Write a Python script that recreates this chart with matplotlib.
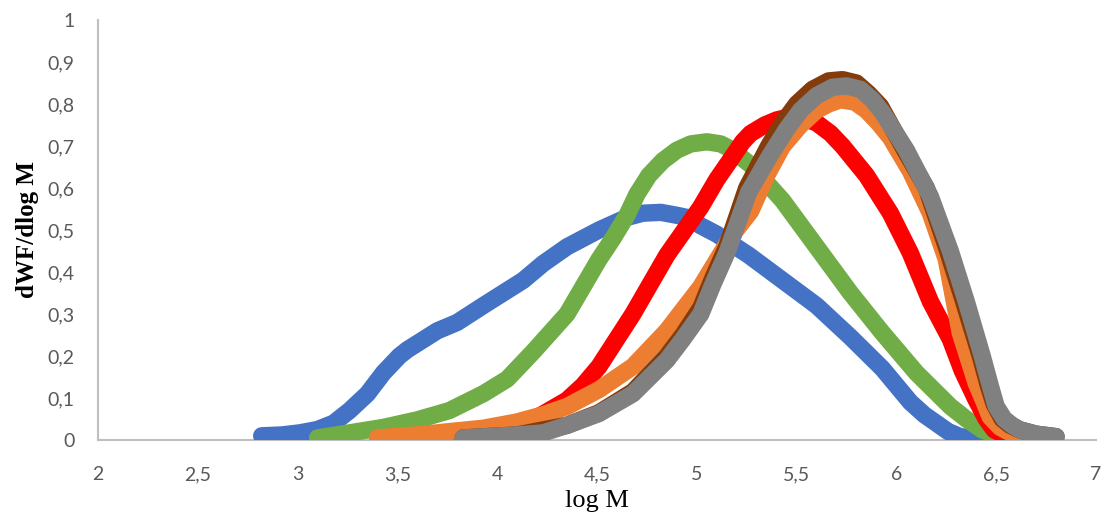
import matplotlib
matplotlib.use("Agg")
import matplotlib.pyplot as plt

# ---- data ----
blue_x = [2.82, 2.92, 3.01, 3.10, 3.18, 3.26, 3.35, 3.43, 3.51, 3.55, 3.60, 3.65, 3.70, 3.80, 3.93,
          4.03, 4.13, 4.23, 4.35, 4.45, 4.51, 4.58, 4.65, 4.73, 4.82, 4.90, 4.95, 5.02, 5.10, 5.26,
          5.43, 5.60, 5.77, 5.93, 6.07, 6.14, 6.20, 6.26, 6.32, 6.42]
blue_y = [0.01, 0.012, 0.017, 0.025, 0.04, 0.07, 0.11, 0.16, 0.20, 0.215, 0.23, 0.245, 0.26, 0.28, 0.32,
          0.35, 0.38, 0.42, 0.46, 0.485, 0.50, 0.515, 0.53, 0.54, 0.542, 0.535, 0.53, 0.51, 0.49, 0.44,
          0.38, 0.32, 0.245, 0.17, 0.09, 0.06, 0.04, 0.02, 0.008, 0.003]

green_x = [3.10, 3.26, 3.43, 3.60, 3.76, 3.93, 4.05, 4.18, 4.35, 4.51, 4.58, 4.65, 4.70, 4.76, 4.83,
           4.90, 4.97, 5.05, 5.12, 5.18, 5.23, 5.27, 5.43, 5.60, 5.77, 5.93, 6.10, 6.27, 6.35, 6.43,
           6.52, 6.60]
green_y = [0.005, 0.017, 0.03, 0.048, 0.07, 0.11, 0.145, 0.21, 0.30, 0.43, 0.48, 0.535, 0.585, 0.63, 0.665,
           0.69, 0.705, 0.71, 0.705, 0.69, 0.67, 0.655, 0.57, 0.46, 0.35, 0.255, 0.16, 0.08, 0.05, 0.024,
           0.008, 0.0]

red_x = [3.50, 3.75, 4.00, 4.18, 4.35, 4.43, 4.51, 4.68, 4.85, 5.02, 5.10, 5.18, 5.23, 5.27, 5.34,
         5.40, 5.47, 5.53, 5.60, 5.67, 5.73, 5.85, 5.97, 6.07, 6.17, 6.27, 6.33, 6.40, 6.45, 6.49,
         6.55, 6.62, 6.70]
red_y = [0.0, 0.01, 0.025, 0.048, 0.095, 0.13, 0.175, 0.30, 0.44, 0.555, 0.62, 0.675, 0.71, 0.73, 0.75,
         0.762, 0.77, 0.767, 0.755, 0.73, 0.70, 0.63, 0.54, 0.445, 0.33, 0.24, 0.165, 0.095, 0.05, 0.024,
         0.01, 0.003, 0.0]

orange_x = [3.40, 3.60, 3.76, 3.93, 4.10, 4.23, 4.35, 4.51, 4.68, 4.85, 5.02, 5.18, 5.27, 5.35, 5.43,
            5.52, 5.60, 5.66, 5.72, 5.79, 5.85, 5.91, 5.97, 6.07, 6.17, 6.25, 6.32, 6.40, 6.44, 6.47,
            6.52, 6.58, 6.66, 6.78]
orange_y = [0.005, 0.012, 0.02, 0.028, 0.043, 0.06, 0.08, 0.12, 0.175, 0.26, 0.365, 0.49, 0.545, 0.63, 0.70,
            0.75, 0.785, 0.80, 0.81, 0.805, 0.785, 0.755, 0.72, 0.64, 0.54, 0.43, 0.255, 0.135, 0.09, 0.055,
            0.03, 0.015, 0.007, 0.003]

brown_x = [3.83, 4.10, 4.35, 4.51, 4.68, 4.85, 4.93, 5.02, 5.08, 5.15, 5.25, 5.36, 5.43, 5.50, 5.58,
           5.66, 5.73, 5.80, 5.86, 5.92, 6.03, 6.15, 6.25, 6.33, 6.42, 6.46, 6.49, 6.53, 6.57, 6.62,
           6.70, 6.80]
brown_y = [0.005, 0.012, 0.035, 0.065, 0.115, 0.20, 0.25, 0.315, 0.385, 0.46, 0.60, 0.70, 0.755, 0.80, 0.835,
           0.855, 0.858, 0.85, 0.825, 0.795, 0.70, 0.60, 0.46, 0.34, 0.20, 0.13, 0.085, 0.05, 0.035, 0.024,
           0.014, 0.008]

gray_x = [3.83, 4.10, 4.23, 4.35, 4.51, 4.68, 4.85, 4.93, 5.02, 5.08, 5.15, 5.26, 5.37, 5.45, 5.52,
          5.60, 5.68, 5.75, 5.82, 5.88, 5.93, 6.05, 6.17, 6.27, 6.35, 6.43, 6.47, 6.50, 6.54, 6.58,
          6.62, 6.70, 6.80]
gray_y = [0.005, 0.012, 0.017, 0.035, 0.063, 0.11, 0.19, 0.24, 0.30, 0.37, 0.445, 0.59, 0.68, 0.74, 0.785,
          0.82, 0.84, 0.843, 0.835, 0.81, 0.78, 0.69, 0.58, 0.45, 0.33, 0.20, 0.13, 0.08, 0.05, 0.035,
          0.024, 0.014, 0.008]

x_ticks = [2, 2.5, 3, 3.5, 4, 4.5, 5, 5.5, 6, 6.5, 7]
x_tick_labels = ["2", "2,5", "3", "3,5", "4", "4,5", "5", "5,5", "6", "6,5", "7"]
y_ticks = [0, 0.1, 0.2, 0.3, 0.4, 0.5, 0.6, 0.7, 0.8, 0.9, 1.0]
y_tick_labels = ["0", "0,1", "0,2", "0,3", "0,4", "0,5", "0,6", "0,7", "0,8", "0,9", "1"]

series = [
    (blue_x, blue_y, "#4472C4"),
    (green_x, green_y, "#70AD47"),
    (red_x, red_y, "#FF0000"),
    (orange_x, orange_y, "#ED7D31"),
    (brown_x, brown_y, "#843C0C"),
    (gray_x, gray_y, "#808080"),
]

fig = plt.figure(figsize=(11.04, 5.18), dpi=100)
ax = fig.add_axes([98 / 1104, 1 - 440 / 518, (1096 - 98) / 1104, (440 - 20) / 518])

for xs, ys, c in series:
    ax.plot(xs, ys, color=c, lw=12.5, solid_capstyle="round", solid_joinstyle="round", zorder=3)

ax.set_xlim(2, 7)
ax.set_ylim(0, 1)
ax.set_xticks(x_ticks)
ax.set_xticklabels(x_tick_labels)
ax.set_yticks(y_ticks)
ax.set_yticklabels(y_tick_labels)

for s in ["top", "right"]:
    ax.spines[s].set_visible(False)
for s in ["left", "bottom"]:
    ax.spines[s].set_color("#BFBFBF")
    ax.spines[s].set_linewidth(1.5)
    ax.spines[s].set_zorder(1)

ax.tick_params(axis="both", length=0, labelcolor="#595959", labelsize=14)
ax.tick_params(axis="x", pad=19)
ax.tick_params(axis="y", pad=17)
for lab in ax.get_xticklabels() + ax.get_yticklabels():
    lab.set_fontfamily("Lato")

ax.set_xlabel("log M", fontfamily="Liberation Serif", fontsize=19, labelpad=5)
ax.set_ylabel("dWF/dlog M", fontfamily="Liberation Serif", fontsize=18, fontweight="bold", labelpad=6)

fig.savefig("out.png", dpi=100)
